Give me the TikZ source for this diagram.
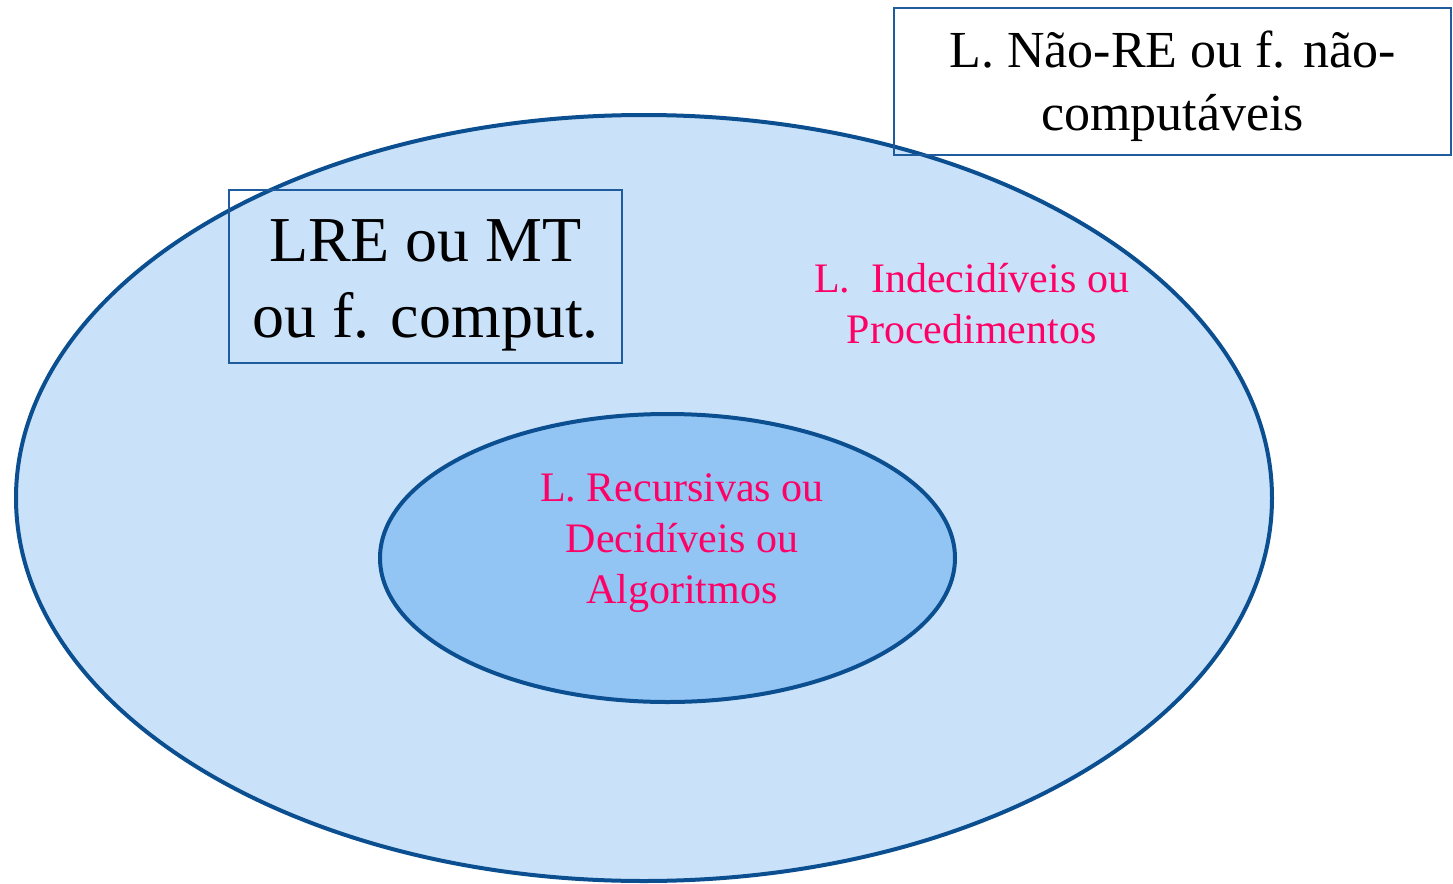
\documentclass[tikz,border=0pt]{standalone}
\usepackage{fontspec}
\setmainfont{Liberation Serif}
\definecolor{outerfill}{HTML}{C9E2F9}
\definecolor{innerfill}{HTML}{92C5F4}
\definecolor{ringline}{HTML}{0B4F91}
\definecolor{boxline}{HTML}{1F5C9E}
\definecolor{pinktext}{HTML}{FF0066}
\begin{document}
\begin{tikzpicture}[x=0.5pt,y=-0.5pt,
  ring/.style={draw=ringline,line width=2pt},
  labelbox/.style={draw=boxline,line width=0.9pt},
  pinklabel/.style={text=pinktext,align=center,inner sep=0pt,
    font=\fontsize{21pt}{25.5pt}\selectfont},
  blacklabel/.style={text=black,align=center,inner sep=0pt}]
\useasboundingbox (0,0) rectangle (1453,884);
% outer ellipse
\path[ring,fill=outerfill] (644,498) ellipse [x radius=628, y radius=383];
% inner ellipse
\path[ring,fill=innerfill] (667.5,558) ellipse [x radius=287.5, y radius=144];
% boxes
\draw[labelbox] (229,190) rectangle (622,363);
\draw[labelbox] (894,8) rectangle (1451,155);
% texts (anchor base = baseline of the last line)
\node[blacklabel,anchor=base,font=\fontsize{32pt}{38pt}\selectfont] (lre) at (425.5,337) {LRE ou MT\\ou f. comput.};
\node[blacklabel,anchor=base,font=\fontsize{26pt}{31.5pt}\selectfont] (nre) at (1172.5,130) {L. Não-RE ou f. não-\\computáveis};
\node[pinklabel,anchor=base] (indec) at (971.5,343) {L.\ \ Indecidíveis ou\\Procedimentos};
\node[pinklabel,anchor=base] (rec) at (682,603) {L. Recursivas ou\\Decidíveis ou\\Algoritmos};
\end{tikzpicture}
\end{document}
